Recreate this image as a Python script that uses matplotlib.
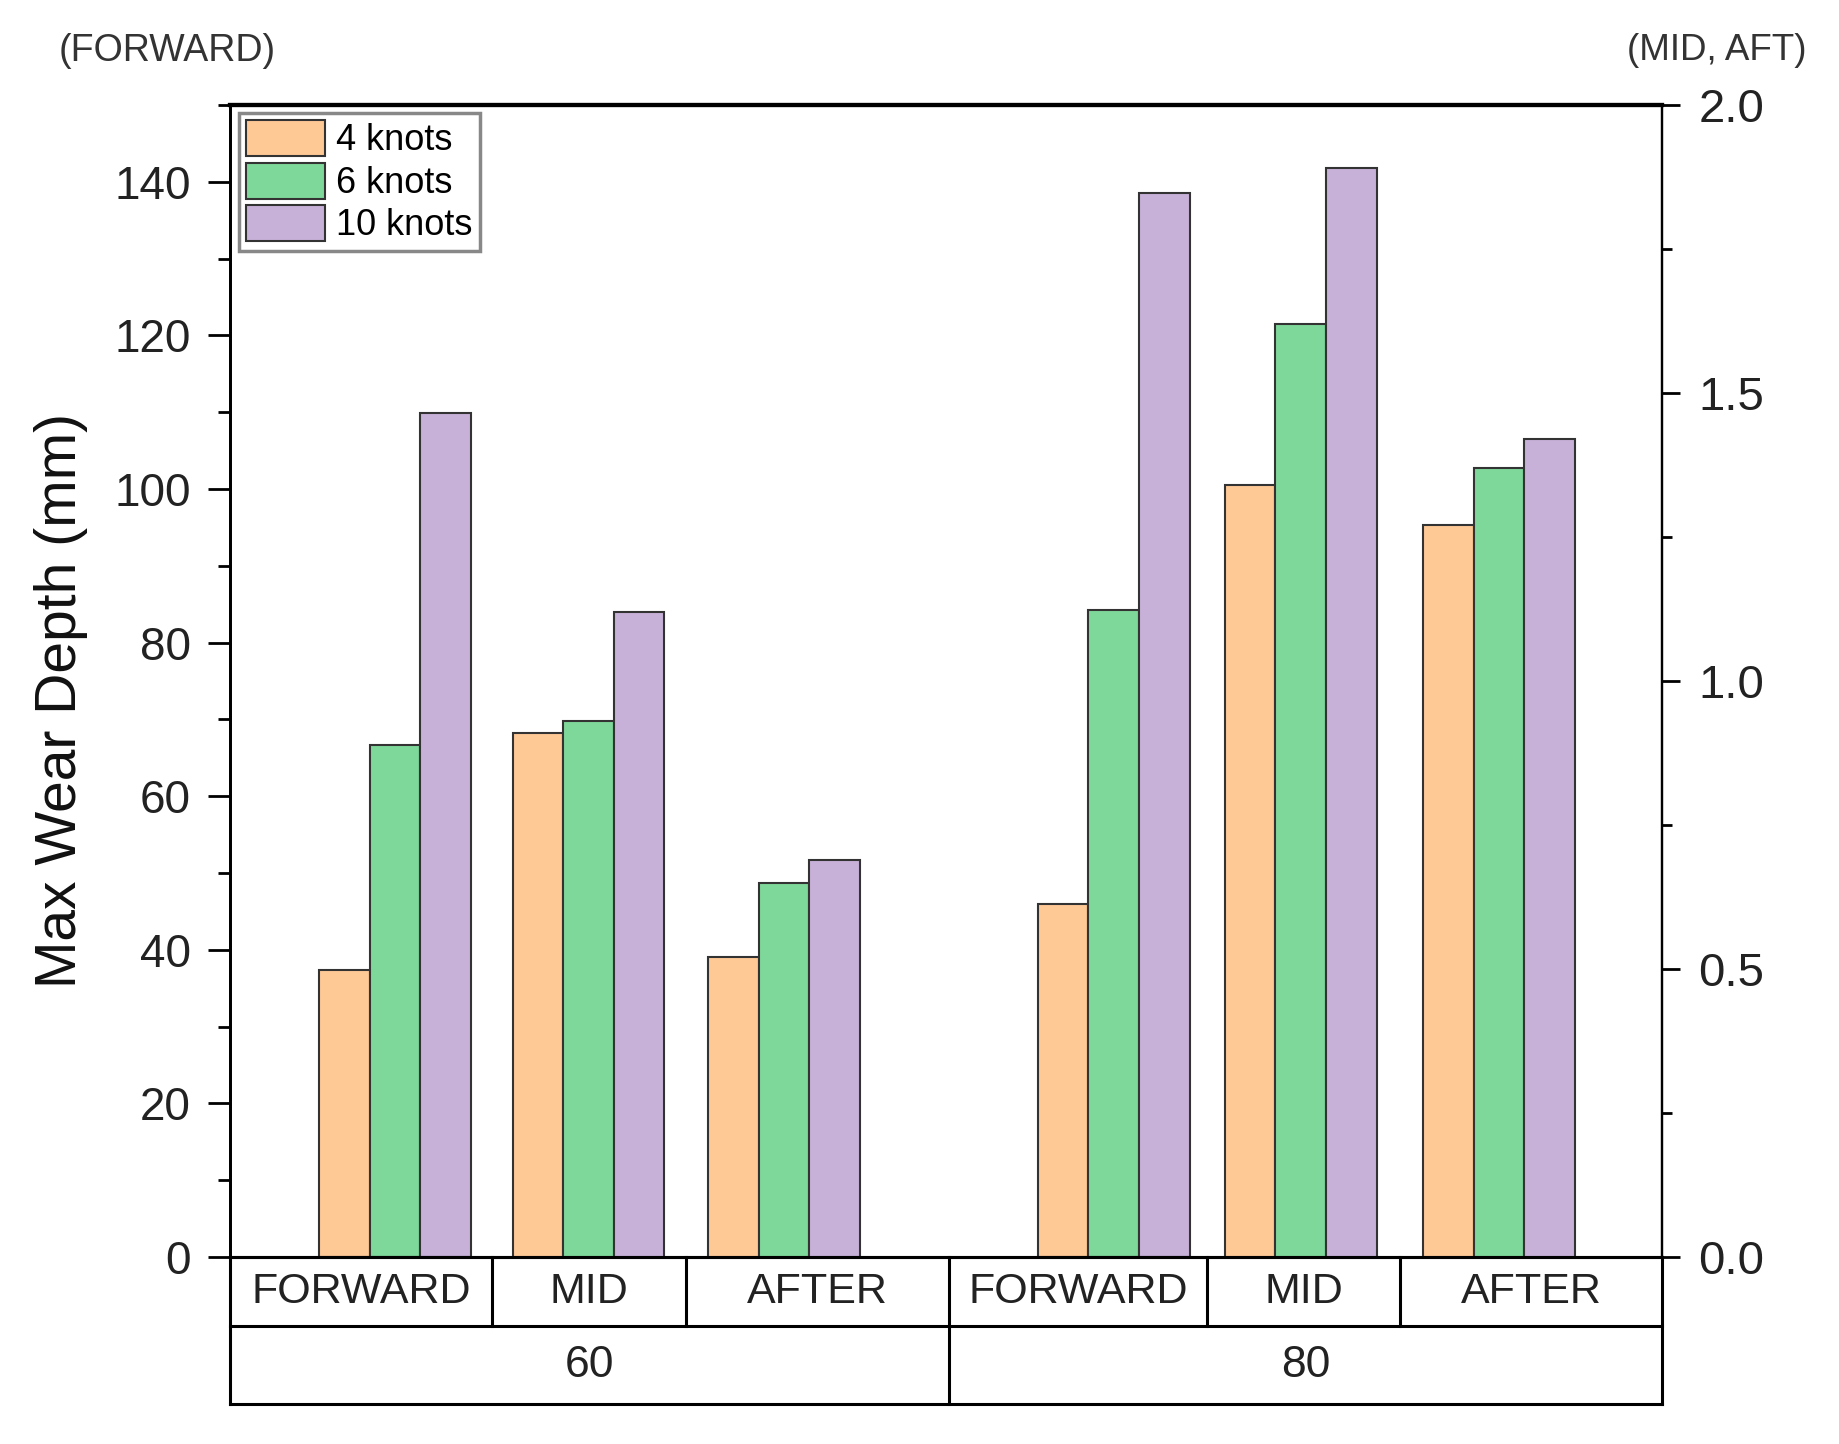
import matplotlib.pyplot as plt
import numpy as np
from matplotlib.patches import Patch
from matplotlib.ticker import MultipleLocator, FormatStrFormatter

plt.rcParams['font.family'] = ['Liberation Sans', 'DejaVu Sans']

# data: FORWARD on left axis (mm), MID / AFTER on right axis
categories = ['FORWARD', 'MID', 'AFTER', 'FORWARD', 'MID', 'AFTER']
speed_groups = ['60', '80']
speeds = ['4 knots', '6 knots', '10 knots']
knots_4 = [37.4, 0.91, 0.52, 46.0, 1.34, 1.27]
knots_6 = [66.7, 0.93, 0.65, 84.3, 1.62, 1.37]
knots_10 = [109.9, 1.12, 0.69, 138.5, 1.89, 1.42]
on_right = [False, True, True, False, True, True]

colors = ['#FFC996', '#7ED89A', '#C8B1D9']

fig = plt.figure(figsize=(18.4, 14.44), dpi=100)
L, R, B, T = 0.125, 0.9033, 0.1295, 0.9273
ax = fig.add_axes([L, B, R - L, T - B])
ax2 = ax.twinx()

x = np.array([0.86, 1.87, 2.89, 4.61, 5.585, 6.62])
xmax = 7.47
w = 0.264

for i, vals in enumerate([knots_4, knots_6, knots_10]):
    for j in range(len(categories)):
        target = ax2 if on_right[j] else ax
        target.bar(x[j] + (i - 1) * w, vals[j], w, color=colors[i],
                   edgecolor='#333333', linewidth=1.5)

ax.set_xlim(0, xmax)
ax.set_ylim(0, 150)
ax2.set_ylim(0, 2.0)

ax.yaxis.set_major_locator(MultipleLocator(20))
ax.yaxis.set_minor_locator(MultipleLocator(10))
ax2.yaxis.set_major_locator(MultipleLocator(0.5))
ax2.yaxis.set_minor_locator(MultipleLocator(0.25))
ax2.yaxis.set_major_formatter(FormatStrFormatter('%.1f'))

ax.tick_params(axis='x', bottom=False, labelbottom=False)
ax2.tick_params(axis='x', bottom=False, labelbottom=False)
ax.tick_params(axis='y', which='major', length=16, width=2, labelsize=33,
               pad=12, labelcolor='#222222')
ax.tick_params(axis='y', which='minor', length=8.5, width=2)
ax2.tick_params(axis='y', which='major', length=13, width=2, labelsize=34,
                pad=13, labelcolor='#222222')
ax2.tick_params(axis='y', which='minor', length=7, width=2)

for a in (ax, ax2):
    a.spines['left'].set_linewidth(2)
    a.spines['bottom'].set_linewidth(2.2)
    a.spines['right'].set_linewidth(1.6)
    a.spines['top'].set_linewidth(3)

ax.set_ylabel('Max Wear Depth (mm)', fontsize=41, color='#111111')
ax.yaxis.set_label_coords(-0.099, 0.483)

handles = [Patch(facecolor=c, edgecolor='#333333', linewidth=1.5, label=s)
           for c, s in zip(colors, speeds)]
leg = ax2.legend(handles=handles, loc='upper left', bbox_to_anchor=(0.006, 0.993),
                 borderaxespad=0, fontsize=26, handlelength=2.2, handleheight=1.15,
                 labelspacing=0.12, handletextpad=0.3, borderpad=0.2,
                 fancybox=False, edgecolor='#888888', framealpha=1)
leg.get_frame().set_linewidth(2.5)

fig.text(0.0908, 0.965, '(FORWARD)', ha='center', va='center', fontsize=27, color='#333333')
fig.text(0.933, 0.965, '(MID, AFT)', ha='center', va='center', fontsize=26.5, color='#333333')

# category table under the axis
tab = fig.add_axes([L, 0.0277, R - L, B - 0.0277])
tab.set_xlim(0, xmax)
tab.set_ylim(0, 1)
tab.axis('off')
row = (0.0817 - 0.0277) / (B - 0.0277)
lk = dict(color='black', linewidth=2.2, clip_on=False)
tab.plot([0, xmax], [row, row], **lk)
tab.plot([0, xmax], [0, 0], **lk)
bounds = [0] + list((x[:-1] + x[1:]) / 2) + [xmax]
for k, b in enumerate(bounds):
    if k in (0, 3, len(bounds) - 1):
        tab.plot([b, b], [0, 1], **lk)
    else:
        tab.plot([b, b], [row, 1], **lk)
for j, c in enumerate(categories):
    tab.text((bounds[j] + bounds[j + 1]) / 2, (row + 1) / 2, c, ha='center',
             va='center', fontsize=31, color='#222222')
for g, name in enumerate(speed_groups):
    tab.text((bounds[3 * g] + bounds[3 * g + 3]) / 2, row / 2, name, ha='center',
             va='center', fontsize=32, color='#222222')

fig.savefig('out.png', dpi=100, facecolor='white')
